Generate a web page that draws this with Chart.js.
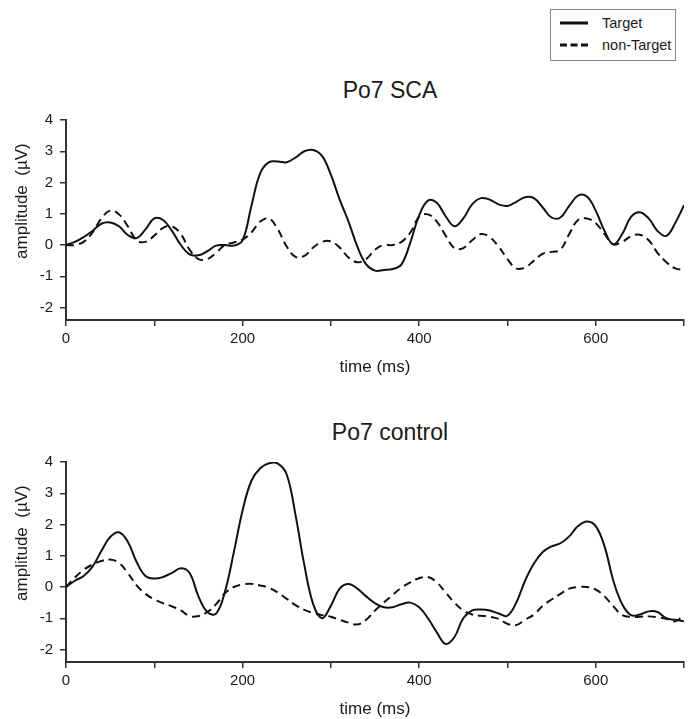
<!DOCTYPE html>
<html>
<head>
<meta charset="utf-8">
<script src="https://cdn.jsdelivr.net/npm/chart.js@4/dist/chart.umd.min.js"></script>
<style>
  body { margin: 0; background: #fff; width: 688px; height: 719px; overflow: hidden; position: relative;
         font-family: Arial, "Liberation Sans", sans-serif; color: #1a1a1a; }
  .box { position: absolute; left: 0; width: 688px; }
  .title { position: absolute; left: 290px; width: 200px; text-align: center; font-size: 23px; line-height: 23px; }
  #legend { position: absolute; left: 550px; top: 9px; width: 124px; height: 50px; border: 1px solid #888; font-size: 14.5px; }
  #legend div { position: absolute; left: 8px; height: 18px; line-height: 18px; }
  #legend span { position: absolute; left: 43px; white-space: nowrap; }
</style>
</head>
<body>
<div id="legend">
  <div style="top:4px"><svg width="32" height="18"><line x1="1" y1="9" x2="29" y2="9" stroke="#111" stroke-width="3"/></svg><span>Target</span></div>
  <div style="top:26px"><svg width="32" height="18"><line x1="1" y1="9" x2="29" y2="9" stroke="#111" stroke-width="3" stroke-dasharray="7,3.5"/></svg><span>non-Target</span></div>
</div>
<div class="title" style="top:79px">Po7 SCA</div>
<div class="title" style="top:421px">Po7 control</div>
<div class="box" style="top:0;height:378px"><canvas id="sca"></canvas></div>
<div class="box" style="top:380px;height:340px"><canvas id="control"></canvas></div>
<script>
// time points (ms)
const times = [0, 10, 20, 30, 40, 50, 60, 70, 80, 90,
  100, 110, 120, 130, 140, 150, 160, 170, 180, 190,
  200, 210, 220, 230, 240, 250, 260, 270, 280, 290,
  300, 310, 320, 330, 340, 350, 360, 370, 380, 390,
  400, 410, 420, 430, 440, 450, 460, 470, 480, 490,
  500, 510, 520, 530, 540, 550, 560, 570, 580, 590,
  600, 610, 620, 630, 640, 650, 660, 670, 680, 690, 700]

const xTicks = [0, 100, 200, 300, 400, 500, 600, 700]
const xLabels = [0, 200, 400, 600]
const yTicks = [-2, -1, 0, 1, 2, 3, 4]

// Po7 SCA
const scaTarget = [0, 0.1, 0.25, 0.45, 0.68, 0.72, 0.6, 0.32, 0.22, 0.5,
  0.85, 0.8, 0.45, 0.0, -0.3, -0.33, -0.2, -0.02, 0.0, -0.02,
  0.15, 1.25, 2.3, 2.65, 2.67, 2.65, 2.8, 3.0, 3.04, 2.85,
  2.25, 1.45, 0.75, -0.05, -0.62, -0.82, -0.8, -0.77, -0.62, 0.08,
  0.95, 1.42, 1.35, 0.92, 0.6, 0.85, 1.3, 1.5, 1.45, 1.3,
  1.25, 1.38, 1.53, 1.5, 1.2, 0.88, 0.88, 1.25, 1.58, 1.55,
  1.1, 0.45, 0.02, 0.35, 0.9, 1.05, 0.85, 0.45, 0.29, 0.7, 1.27]

const scaNonTarget = [0, 0.0, 0.1, 0.4, 0.85, 1.1, 0.98, 0.6, 0.15, 0.1,
  0.3, 0.55, 0.6, 0.35, -0.15, -0.45, -0.45, -0.25, 0.0, 0.08,
  0.17, 0.4, 0.75, 0.85, 0.5, -0.05, -0.38, -0.35, -0.08, 0.1,
  0.12, -0.08, -0.4, -0.55, -0.45, -0.15, 0.0, 0.0, 0.1, 0.4,
  0.9, 0.98, 0.75, 0.3, -0.1, -0.1, 0.15, 0.35, 0.25, -0.05,
  -0.45, -0.75, -0.72, -0.5, -0.28, -0.22, -0.15, 0.35, 0.8, 0.85,
  0.7, 0.35, 0.02, 0.1, 0.28, 0.33, 0.15, -0.25, -0.55, -0.75, -0.8]

// Po7 control
const ctlTarget = [0, 0.2, 0.35, 0.65, 1.15, 1.6, 1.75, 1.45, 0.8, 0.35,
  0.27, 0.32, 0.45, 0.6, 0.45, -0.3, -0.8, -0.85, -0.15, 1.1,
  2.45, 3.4, 3.8, 3.96, 3.95, 3.6, 2.3, 0.7, -0.55, -1.0,
  -0.6, -0.05, 0.1, -0.05, -0.3, -0.52, -0.65, -0.65, -0.55, -0.5,
  -0.65, -1.0, -1.45, -1.82, -1.6, -1.0, -0.75, -0.72, -0.75, -0.85,
  -0.92, -0.5, 0.2, 0.75, 1.12, 1.3, 1.4, 1.62, 1.95, 2.1,
  1.95, 1.3, 0.2, -0.55, -0.9, -0.88, -0.78, -0.8, -1.0, -1.05, -1.1]

const ctlNonTarget = [0, 0.3, 0.55, 0.72, 0.83, 0.88, 0.77, 0.45, 0.05, -0.22,
  -0.4, -0.52, -0.62, -0.75, -0.93, -0.93, -0.8, -0.55, -0.2, 0.0,
  0.08, 0.1, 0.05, -0.03, -0.18, -0.38, -0.58, -0.73, -0.83, -0.9,
  -0.95, -1.05, -1.14, -1.2, -1.05, -0.75, -0.5, -0.25, -0.02, 0.15,
  0.28, 0.32, 0.15, -0.18, -0.5, -0.75, -0.88, -0.92, -0.95, -1.02,
  -1.18, -1.22, -1.05, -0.88, -0.6, -0.4, -0.22, -0.05, 0.0, 0.0,
  -0.08, -0.3, -0.62, -0.9, -0.96, -0.95, -0.94, -0.97, -1.02, -1.1, -0.9]

const axisColor = '#333'
const font = 'Arial, "Liberation Sans", sans-serif'

function makeChart(id, target, nonTarget, padTop) {
  const ctx = document.getElementById(id).getContext('2d')
  return new Chart(ctx, {
    type: 'line',
    data: {
      datasets: [
        {
          label: 'Target',
          data: times.map((t, i) => ({ x: t, y: target[i] })),
          borderColor: '#111',
          borderWidth: 2,
          pointRadius: 0,
          tension: 0.4
        },
        {
          label: 'non-Target',
          data: times.map((t, i) => ({ x: t, y: nonTarget[i] })),
          borderColor: '#111',
          borderWidth: 2,
          borderDash: [8, 5],
          pointRadius: 0,
          tension: 0.4
        }
      ]
    },
    options: {
      responsive: true,
      maintainAspectRatio: false,
      animation: false,
      layout: { padding: { top: padTop, right: 4, left: 0, bottom: 0 } },
      plugins: { legend: { display: false }, tooltip: { enabled: false } },
      scales: {
        x: {
          type: 'linear',
          min: 0,
          max: 700,
          grid: { drawOnChartArea: false, drawTicks: true, tickLength: 6, color: axisColor, lineWidth: 1.5 },
          border: { display: true, color: axisColor, width: 2 },
          afterBuildTicks: axis => { axis.ticks = xTicks.map(v => ({ value: v })) },
          ticks: {
            padding: 4,
            color: '#1a1a1a',
            font: { family: font, size: 15 },
            maxRotation: 0,
            autoSkip: false,
            callback: v => xLabels.includes(v) ? v : ''
          },
          title: { display: true, text: 'time (ms)', color: '#1a1a1a', font: { family: font, size: 17 }, padding: { top: 0, bottom: 0 } },
          afterFit: axis => { axis.height = 58 }
        },
        y: {
          min: -2.4,
          max: 4,
          grid: { drawOnChartArea: false, drawTicks: true, tickLength: 6, color: axisColor, lineWidth: 1.5 },
          border: { display: true, color: axisColor, width: 2 },
          afterBuildTicks: axis => { axis.ticks = yTicks.map(v => ({ value: v })) },
          ticks: { padding: 7, autoSkip: false, color: '#1a1a1a', font: { family: font, size: 15 } },
          title: { display: true, text: '        amplitude  (\u00b5V)', color: '#1a1a1a', font: { family: font, size: 17 }, padding: { top: 12, bottom: 0 } },
          afterFit: axis => { axis.width = 66 }
        }
      }
    }
  })
}

makeChart('sca', scaTarget, scaNonTarget, 120)
makeChart('control', ctlTarget, ctlNonTarget, 82)
</script>
</body>
</html>
